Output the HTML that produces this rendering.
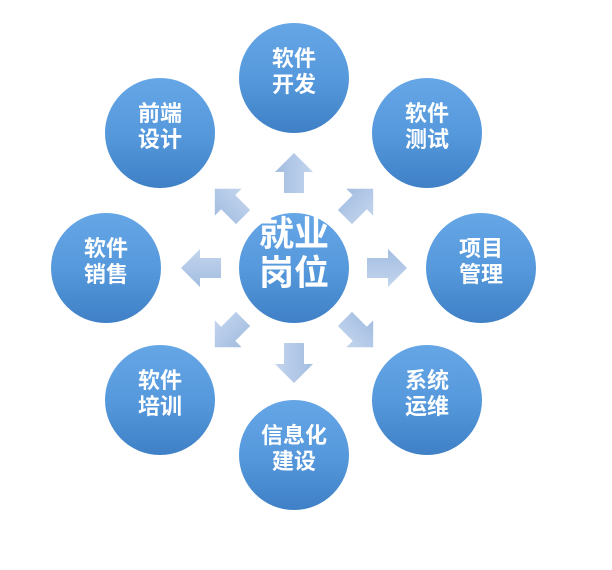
<!DOCTYPE html>
<html><head><meta charset="utf-8"><style>
html,body{margin:0;padding:0;background:#fff;}
svg text{font-family:"Liberation Sans","Noto Sans CJK SC",sans-serif;font-weight:bold;fill:#fff;text-anchor:middle;}
</style></head><body>
<svg width="612" height="565" viewBox="0 0 612 565" xmlns="http://www.w3.org/2000/svg">
<defs>
<linearGradient id="cg" x1="0" y1="0" x2="0" y2="1">
<stop offset="0" stop-color="#65a6e6"/><stop offset="0.5" stop-color="#5699dc"/><stop offset="1" stop-color="#3f80c6"/>
</linearGradient>
<linearGradient id="ag" x1="0" y1="0" x2="1" y2="0">
<stop offset="0" stop-color="#a3bde0"/><stop offset="1" stop-color="#c3d5ee"/>
</linearGradient>
<g id="ar"><polygon points="0,-20 19,-1 10,-1 10,20 -10,20 -10,-1 -19,-1" fill="url(#ag)"/></g>
</defs>
<g transform="translate(294,268)">
<use href="#ar" transform="rotate(0) translate(0,-95)"/>
<use href="#ar" transform="rotate(45) translate(0,-92)"/>
<use href="#ar" transform="rotate(90) translate(0,-93)"/>
<use href="#ar" transform="rotate(135) translate(0,-92)"/>
<use href="#ar" transform="rotate(180) translate(0,-95)"/>
<use href="#ar" transform="rotate(225) translate(0,-92)"/>
<use href="#ar" transform="rotate(270) translate(0,-93)"/>
<use href="#ar" transform="rotate(315) translate(0,-92)"/>
</g>
<circle cx="294" cy="268" r="55" fill="url(#cg)"/>
<text x="294" y="246" font-size="35">就业</text>
<text x="294" y="285" font-size="35">岗位</text>

<g font-size="22">
<circle cx="294" cy="78" r="55" fill="url(#cg)"/>
<text x="294" y="66" font-size="22">软件</text><text x="294" y="92" font-size="22">开发</text>
<circle cx="160" cy="133" r="55" fill="url(#cg)"/>
<text x="160" y="121" font-size="22">前端</text><text x="160" y="147" font-size="22">设计</text>
<circle cx="427" cy="133" r="55" fill="url(#cg)"/>
<text x="427" y="121" font-size="22">软件</text><text x="427" y="147" font-size="22">测试</text>
<circle cx="106" cy="268" r="55" fill="url(#cg)"/>
<text x="106" y="256" font-size="22">软件</text><text x="106" y="282" font-size="22">销售</text>
<circle cx="481" cy="268" r="55" fill="url(#cg)"/>
<text x="481" y="256" font-size="22">项目</text><text x="481" y="282" font-size="22">管理</text>
<circle cx="160" cy="400" r="55" fill="url(#cg)"/>
<text x="160" y="388" font-size="22">软件</text><text x="160" y="414" font-size="22">培训</text>
<circle cx="427" cy="400" r="55" fill="url(#cg)"/>
<text x="427" y="388" font-size="22">系统</text><text x="427" y="414" font-size="22">运维</text>
<circle cx="294" cy="455" r="55" fill="url(#cg)"/>
<text x="294" y="443" font-size="22">信息化</text><text x="294" y="469" font-size="22">建设</text>
</g>
</svg>
</body></html>
